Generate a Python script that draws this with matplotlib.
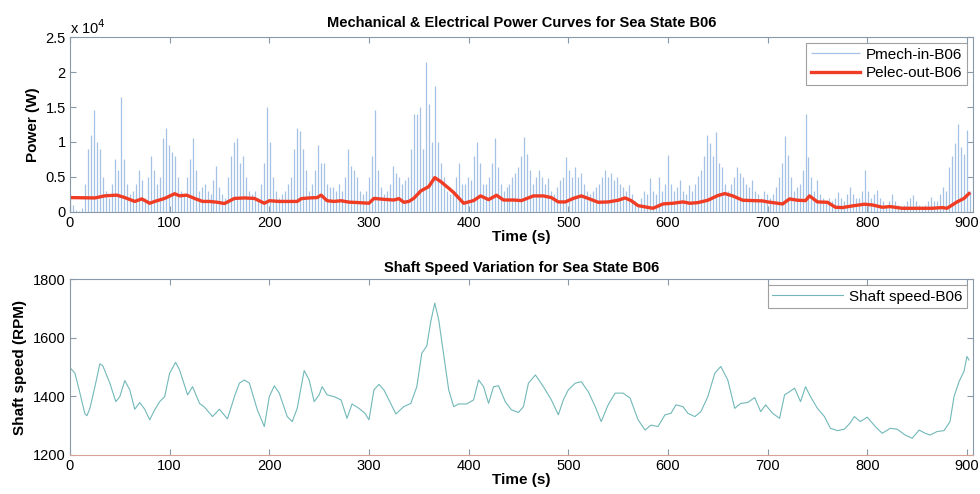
import numpy as np
import matplotlib.pyplot as plt
from matplotlib.ticker import FuncFormatter

# Pmech-in-B06: spike heights (kW) on a 3 s grid
pmech_t = np.arange(0, 904, 3)
pmech_kw = [
    2.5, 1.0, 0.3, 0.2, 0.5,
    4.0, 9.0, 11.0, 14.5, 10.0, 9.0, 5.0,
    3.0, 2.0, 4.0,
    7.5, 6.0, 16.5, 7.5, 4.0,
    2.5, 3.0, 4.0, 6.0, 4.5, 2.0,
    5.0, 8.0, 6.0, 4.0, 5.0,
    10.5, 12.0, 9.5, 8.5, 8.0, 5.0,
    3.0, 2.5, 5.0,
    7.5, 10.5, 6.0, 3.0,
    3.5, 4.0, 3.0, 2.5, 4.5,
    6.5, 3.5, 2.5, 2.0, 5.0,
    8.0, 10.0, 10.5, 7.0, 8.0, 5.0, 3.0,
    2.5, 3.0, 2.0, 4.0,
    7.0, 15.0, 10.0, 5.0, 3.0,
    2.0, 2.5, 3.0, 4.0, 5.0,
    9.0, 12.0, 11.5, 9.0, 6.0, 3.0,
    4.0, 6.0, 9.5, 7.0, 7.0, 4.0,
    3.5, 3.5, 3.0, 4.0, 3.0, 5.0,
    9.0, 6.5, 6.0, 5.0, 3.0, 2.5, 3.0,
    5.0, 8.0, 14.5, 6.0, 3.5,
    2.5, 3.0, 4.0, 6.5, 5.5, 5.0, 4.0, 4.5, 5.0,
    9.0, 14.0, 14.0, 15.0, 9.0, 21.5, 15.5, 10.0, 18.0, 10.0, 7.0, 5.0, 3.0,
    2.5, 3.0, 5.0, 7.0, 4.0, 4.0, 5.0, 4.5,
    8.0, 10.0, 7.0, 4.0, 4.0, 5.0, 7.0, 10.5, 6.4, 4.0,
    3.0, 3.5, 4.0, 5.0, 5.5,
    6.4, 8.0, 10.7, 8.3, 6.0, 4.0,
    5.0, 6.0, 5.0, 4.0, 4.8, 3.0, 2.5,
    3.5, 4.5, 5.0, 7.9, 6.0, 5.0, 6.4, 5.0, 5.5, 4.0,
    3.0, 2.5, 3.0, 3.5, 4.0,
    5.0, 6.0, 5.0, 5.5, 4.5, 5.0, 4.0, 3.5, 3.0, 3.8,
    2.5, 1.5, 1.0, 2.0, 3.0, 2.5,
    4.8, 3.0, 2.5, 5.0, 3.0, 4.0,
    8.1, 4.0, 3.0, 3.5, 4.5, 3.0, 2.5, 3.8, 3.0, 4.0, 5.2, 6.0, 8.0,
    11.0, 9.8, 8.0, 11.4, 7.0, 6.4, 4.0,
    3.0, 4.0, 5.0, 6.4, 5.5, 5.0, 4.0, 3.5, 4.5,
    3.0, 2.5, 2.0, 3.0, 2.5, 2.0, 2.5, 3.5, 5.0,
    7.0, 10.9, 8.1, 5.0, 3.0, 3.5, 4.0,
    6.0, 14.0, 7.9, 5.0, 3.0, 4.5,
    2.5, 2.0, 1.5, 2.0, 1.5, 2.0, 2.9,
    2.0, 1.5, 2.5, 3.6, 2.5, 2.0, 2.0, 3.0,
    6.0, 3.0, 2.0, 2.5, 3.1, 2.0, 1.5, 1.0, 1.5,
    2.6, 1.5, 1.0, 0.8, 1.0, 1.5, 2.0, 2.4, 1.5, 1.0, 0.8, 1.0, 1.5, 2.1,
    1.5, 1.5, 2.5, 3.6, 3.0,
    6.4, 8.0, 9.8, 12.6, 9.3, 8.3, 11.7, 3.0,
]
pmech_w = np.array(pmech_kw) * 1000

# Pelec-out-B06 (W)
pelec_t = [0, 25, 35, 47, 55, 65, 72, 80, 85, 95, 105, 110, 117, 125, 133, 140,
           148, 155, 165, 175, 185, 195, 200, 210, 220, 228, 232, 240, 248, 252,
           258, 265, 272, 280, 290, 300, 305, 315, 325, 330, 335, 340, 345, 352,
           360, 366, 372, 380, 385, 395, 405, 412, 420, 428, 435, 445, 453, 465,
           475, 483, 490, 497, 505, 513, 520, 530, 540, 550, 557, 563, 570, 585,
           595, 605, 615, 622, 630, 640, 650, 657, 665, 675, 685, 695, 700, 715,
           722, 730, 738, 742, 750, 760, 768, 775, 785, 797, 805, 815, 823, 835,
           850, 865, 875, 880, 890, 897, 902]
pelec_w = [2050, 2000, 2300, 2400, 2050, 1500, 1860, 1240, 1500, 1930, 2600,
           2300, 2400, 1930, 1500, 1500, 1380, 1200, 1930, 2000, 1930, 1240,
           1600, 1500, 1500, 1500, 1900, 2000, 2050, 2400, 1600, 1500, 1600,
           1400, 1330, 1240, 1930, 1800, 1700, 1900, 1380, 1500, 1950, 3000,
           3620, 4900, 4340, 3390, 2770, 1240, 1620, 2290, 1760, 2380, 1700,
           1700, 1620, 2290, 2290, 2050, 1430, 1430, 1930, 2290, 1930, 1380,
           1430, 1670, 2000, 1620, 900, 520, 1140, 1240, 1430, 1240, 1330, 1670,
           2340, 2620, 2290, 1670, 1620, 1570, 1430, 1140, 1860, 1670, 1620,
           2290, 1430, 1380, 670, 620, 860, 1100, 1000, 670, 760, 520, 520, 520,
           620, 520, 1430, 1930, 2620]

# Shaft speed-B06 (RPM)
shaft_t = [0, 5, 10, 15, 17, 20, 25, 30, 33, 40, 46, 50, 55, 60, 65, 70, 75, 80,
           85, 90, 95, 100, 106, 110, 118, 123, 130, 135, 143, 150, 158, 165,
           170, 175, 180, 188, 195, 200, 205, 210, 218, 223, 228, 235, 240, 245,
           250, 253, 258, 265, 272, 278, 283, 290, 296, 300, 305, 310, 315, 320,
           327, 335, 342, 348, 353, 358, 362, 366, 370, 375, 380, 385, 390, 398,
           405, 410, 415, 420, 425, 430, 437, 443, 450, 455, 460, 467, 475, 483,
           490, 495, 500, 507, 513, 520, 527, 533, 540, 547, 555, 562, 570, 577,
           583, 590, 597, 603, 608, 615, 620, 627, 633, 640, 647, 653, 660, 667,
           673, 680, 687, 693, 698, 705, 712, 717, 722, 727, 733, 738, 743, 750,
           757, 763, 770, 777, 783, 787, 793, 800, 808, 815, 823, 830, 838, 845,
           852, 858, 863, 870, 877, 883, 887, 892, 897, 900, 902]
shaft_rpm = [1498, 1479, 1411, 1340, 1334, 1359, 1433, 1511, 1504, 1445, 1382,
             1399, 1454, 1422, 1356, 1379, 1356, 1320, 1354, 1382, 1399, 1479,
             1516, 1490, 1405, 1433, 1376, 1363, 1331, 1356, 1323, 1399, 1445,
             1456, 1445, 1354, 1297, 1399, 1436, 1411, 1331, 1314, 1359, 1488,
             1456, 1382, 1405, 1433, 1405, 1399, 1388, 1325, 1374, 1359, 1342,
             1320, 1422, 1441, 1422, 1388, 1340, 1365, 1376, 1433, 1547, 1572,
             1655, 1718, 1661, 1541, 1422, 1365, 1374, 1374, 1388, 1456, 1433,
             1376, 1433, 1436, 1380, 1354, 1345, 1365, 1445, 1473, 1433, 1388,
             1337, 1388, 1422, 1445, 1450, 1416, 1365, 1314, 1371, 1411, 1411,
             1394, 1320, 1285, 1302, 1297, 1337, 1342, 1371, 1365, 1342, 1331,
             1348, 1399, 1479, 1502, 1456, 1359, 1376, 1379, 1396, 1348, 1371,
             1342, 1325, 1405, 1416, 1428, 1382, 1433, 1399, 1359, 1331, 1291,
             1283, 1288, 1310, 1331, 1314, 1329, 1297, 1274, 1291, 1288, 1268,
             1257, 1285, 1274, 1268, 1280, 1283, 1314, 1399, 1450, 1485, 1536,
             1524]

plt.rcParams['font.family'] = ['Liberation Sans', 'DejaVu Sans']
frame = '#8a99a8'

fig = plt.figure(figsize=(9.8, 4.94), dpi=100)
ax1 = fig.add_axes([0.0714, 0.571, 0.9214, 0.354])
ax2 = fig.add_axes([0.0714, 0.079, 0.9214, 0.356])

# top panel
ax1.vlines(pmech_t, 0, pmech_w, color='#a4c3e4', lw=0.9, label='Pmech-in-B06')
ax1.plot(pelec_t, pelec_w, color='#f03c24', lw=2.4, label='Pelec-out-B06')
ax1.set_xlim(0, 906)
ax1.set_ylim(0, 25000)
ax1.set_yticks([0, 5000, 10000, 15000, 20000, 25000])
ax1.yaxis.set_major_formatter(FuncFormatter(lambda v, p: '%g' % (v / 1e4)))
ax1.text(0, 1.02, r'x 10$^4$', transform=ax1.transAxes, fontsize=10.5)
ax1.set_title('Mechanical & Electrical Power Curves for Sea State B06',
              fontsize=10.5, fontweight='bold', pad=7)
ax1.set_xlabel('Time (s)', fontsize=11, fontweight='bold', labelpad=0)
ax1.set_ylabel('Power (W)', fontsize=11, fontweight='bold', labelpad=4)
leg1 = ax1.legend(loc='upper right', fontsize=11, fancybox=False,
                  handlelength=3.2, borderaxespad=0.4, borderpad=0.3,
                  labelspacing=0.3, handletextpad=0.4)
leg1.get_frame().set_edgecolor('#888888')
leg1.get_frame().set_linewidth(0.8)

# bottom panel
ax2.plot(shaft_t, shaft_rpm, color='#72b8b8', lw=0.8, label='Shaft speed-B06')
ax2.set_xlim(0, 906)
ax2.set_ylim(1200, 1800)
ax2.set_yticks([1200, 1400, 1600, 1800])
ax2.set_title('Shaft Speed Variation for Sea State B06',
              fontsize=10.5, fontweight='bold', pad=5)
ax2.set_xlabel('Time (s)', fontsize=11, fontweight='bold', labelpad=0)
ax2.set_ylabel('Shaft speed (RPM)', fontsize=11, fontweight='bold', labelpad=4)
leg2 = ax2.legend(loc='upper right', fontsize=11, fancybox=False,
                  handlelength=4.6, borderaxespad=0.4, borderpad=0.3,
                  handletextpad=0.4)
leg2.get_frame().set_edgecolor('#888888')
leg2.get_frame().set_linewidth(0.8)

for ax in (ax1, ax2):
    ax.set_xticks(range(0, 1000, 100))
    ax.tick_params(direction='in', top=True, right=True, labelsize=10.5,
                   color=frame, length=4, pad=3)
    for s in ax.spines.values():
        s.set_color(frame)
        s.set_linewidth(0.8)
ax2.spines['bottom'].set_color('#d8a295')

fig.savefig('out.png', dpi=100)
